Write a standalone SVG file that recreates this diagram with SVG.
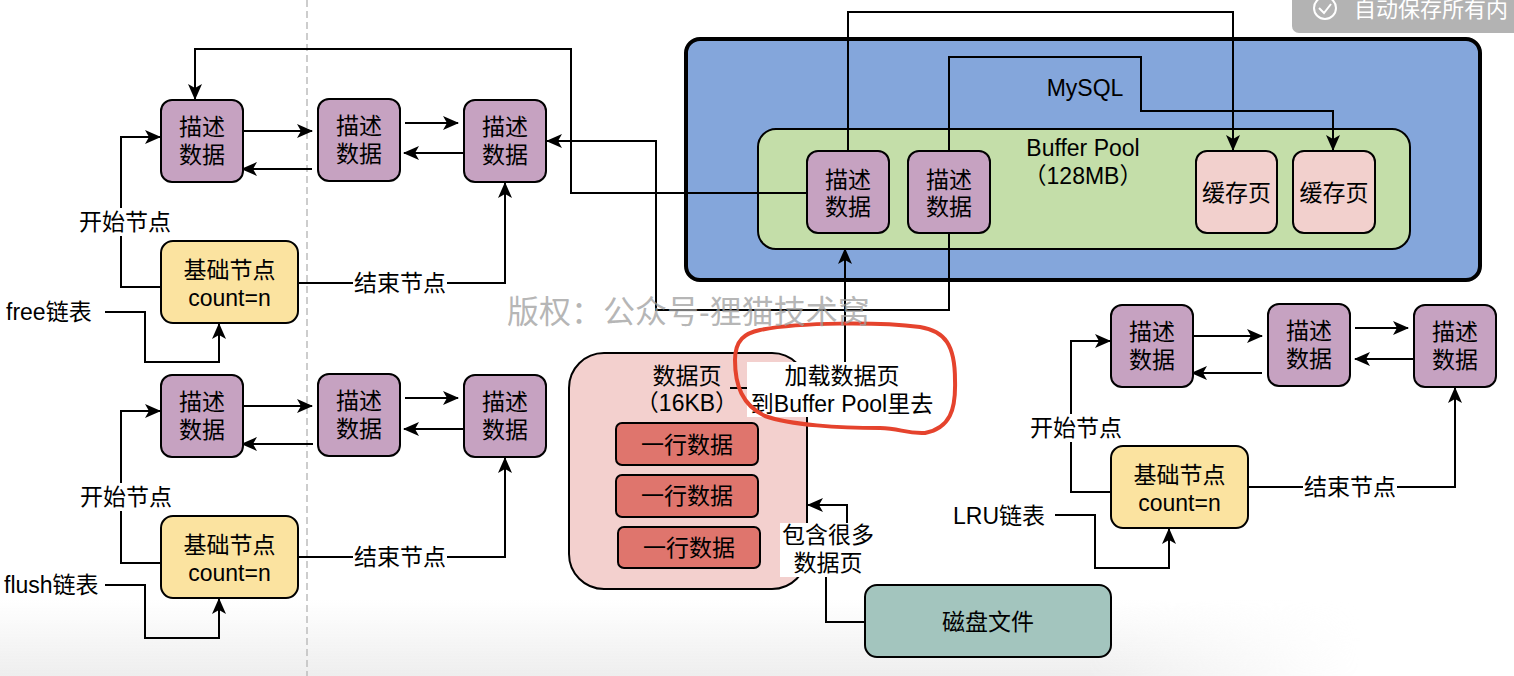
<svg xmlns="http://www.w3.org/2000/svg" width="1514" height="676" viewBox="0 0 1514 676">
<style>
.t{font-family:"Liberation Sans","Noto Sans CJK SC",sans-serif;font-size:23px;fill:#000;text-anchor:middle;dominant-baseline:central}
.tl{font-family:"Liberation Sans","Noto Sans CJK SC",sans-serif;font-size:23px;fill:#000;dominant-baseline:central}
.desc{fill:#C6A2C1;stroke:#000;stroke-width:2}
.base{fill:#FBE3A0;stroke:#000;stroke-width:2}
.cache{fill:#F2D0CD;stroke:#000;stroke-width:2}
.row{fill:#DF756D;stroke:#000;stroke-width:2}
.edge{fill:none;stroke:#000;stroke-width:2}
.arr{marker-end:url(#arr)}
.lbg{fill:#fff}
</style>
<defs>
<marker id="arr" markerWidth="16" markerHeight="14" refX="15" refY="7" orient="auto" markerUnits="userSpaceOnUse">
<path d="M0,0 L16,7 L0,14 L4,7 Z" fill="#000"/>
</marker>
<linearGradient id="gv" x1="0" y1="0" x2="0" y2="1">
<stop offset="0" stop-color="#eeeeee" stop-opacity="0"/>
<stop offset="1" stop-color="#eeeeee" stop-opacity="1"/>
</linearGradient>
<linearGradient id="gh" x1="0" y1="0" x2="1" y2="0">
<stop offset="0.8" stop-color="#fff"/>
<stop offset="1" stop-color="#000"/>
</linearGradient>
<mask id="mh" maskUnits="userSpaceOnUse" x="0" y="0" width="1514" height="676">
<rect x="0" y="590" width="1360" height="86" fill="url(#gh)"/>
</mask>
</defs>
<rect x="0" y="0" width="1514" height="676" fill="#fff"/>
<rect x="0" y="600" width="1360" height="76" fill="url(#gv)" mask="url(#mh)"/>
<line x1="307" y1="0" x2="307" y2="676" stroke="#BDBDBD" stroke-width="1.5" stroke-dasharray="7 4"/>

<g id="mysql">
<rect x="686" y="39" width="794" height="241" rx="14" fill="#84A6DB" stroke="#000" stroke-width="4"/>
<text class="t" x="1085" y="88">MySQL</text>
</g>
<g id="bufferpool">
<rect x="758" y="129" width="652" height="120" rx="18" fill="#C4DEA9" stroke="#000" stroke-width="2"/>
<text class="t" x="1083" y="148">Buffer Pool</text>
<text class="t" x="1083" y="176">（128MB）</text>
</g>
<g id="datapage">
<rect x="569" y="353" width="238" height="236" rx="35" fill="#F3D0CE" stroke="#000" stroke-width="2"/>
<text class="t" x="687" y="376">数据页</text>
<text class="t" x="687" y="403">（16KB）</text>
</g>

<g id="connectors">
<path class="edge arr" d="M243,131 H312"/>
<path class="edge arr" d="M312,169 H242"/>
<path class="edge arr" d="M405,123 H458"/>
<path class="edge arr" d="M464,153 H404"/>
<path class="edge arr" d="M161,287 H121 V137 H160"/>
<path class="edge arr" d="M298,283 H505 V183"/>
<path class="edge arr" d="M105,312 H145 V362 H219 V324"/>
<path class="edge arr" d="M807,193 H571 V49 H195 V99"/>
<path class="edge arr" d="M949,233 V310 H656 V141 H547"/>

<path class="edge arr" d="M243,406 H312"/>
<path class="edge arr" d="M313,444 H242"/>
<path class="edge arr" d="M405,398 H458"/>
<path class="edge arr" d="M464,429 H404"/>
<path class="edge arr" d="M161,563 H121 V411 H160"/>
<path class="edge arr" d="M298,557 H505 V458"/>
<path class="edge arr" d="M105,585 H145 V638 H219 V599"/>

<path class="edge arr" d="M1193,336 H1262"/>
<path class="edge arr" d="M1262,373 H1192"/>
<path class="edge arr" d="M1355,328 H1408"/>
<path class="edge arr" d="M1414,359 H1355"/>
<path class="edge arr" d="M1111,492 H1071 V341 H1110"/>
<path class="edge arr" d="M1248,487 H1455 V388"/>
<path class="edge arr" d="M1055,515 H1095 V568 H1169 V529"/>

<path class="edge arr" d="M848,151 V12 H1233 V150"/>
<path class="edge arr" d="M949,151 V57 H1141 V111 H1333 V150"/>
<path class="edge arr" d="M730,388 H845 V249"/>
<path class="edge arr" d="M864,622 H826 V540 H847 V505 H808"/>

<rect class="lbg" x="78" y="208" width="94" height="28"/>
<text class="t" x="125" y="222">开始节点</text>
<rect class="lbg" x="353" y="269" width="94" height="28"/>
<text class="t" x="400" y="283">结束节点</text>
<rect class="lbg" x="79" y="483" width="94" height="28"/>
<text class="t" x="126" y="497">开始节点</text>
<rect class="lbg" x="353" y="543" width="94" height="28"/>
<text class="t" x="400" y="557">结束节点</text>
<rect class="lbg" x="1029" y="414" width="94" height="28"/>
<text class="t" x="1076" y="428">开始节点</text>
<rect class="lbg" x="1303" y="473" width="94" height="28"/>
<text class="t" x="1350" y="487">结束节点</text>
<rect class="lbg" x="747" y="362" width="191" height="55"/>
<text class="t" x="842" y="376">加载数据页</text>
<text class="t" x="842" y="404">到Buffer Pool里去</text>
<rect class="lbg" x="780" y="523" width="94" height="54"/>
<text class="t" x="828" y="535">包含很多</text>
<text class="t" x="828" y="563">数据页</text>
</g>

<text class="tl" x="6" y="312">free链表</text>
<text class="tl" x="4" y="585">flush链表</text>
<text class="tl" x="953" y="516">LRU链表</text>

<g id="free-1"><rect class="desc" x="161" y="100" width="82" height="82" rx="11"/><text class="t" x="202" y="127">描述</text><text class="t" x="202" y="155">数据</text></g>
<g id="free-2"><rect class="desc" x="318" y="99" width="82" height="82" rx="11"/><text class="t" x="359" y="126">描述</text><text class="t" x="359" y="154">数据</text></g>
<g id="free-3"><rect class="desc" x="464" y="100" width="82" height="82" rx="11"/><text class="t" x="505" y="127">描述</text><text class="t" x="505" y="155">数据</text></g>
<g id="free-base"><rect class="base" x="161" y="241" width="137" height="82" rx="12"/><text class="t" x="229.5" y="270">基础节点</text><text class="t" x="229.5" y="298">count=n</text></g>

<g id="flush-1"><rect class="desc" x="161" y="375" width="82" height="82" rx="11"/><text class="t" x="202" y="402">描述</text><text class="t" x="202" y="430">数据</text></g>
<g id="flush-2"><rect class="desc" x="318" y="374" width="82" height="82" rx="11"/><text class="t" x="359" y="401">描述</text><text class="t" x="359" y="429">数据</text></g>
<g id="flush-3"><rect class="desc" x="464" y="375" width="82" height="82" rx="11"/><text class="t" x="505" y="402">描述</text><text class="t" x="505" y="430">数据</text></g>
<g id="flush-base"><rect class="base" x="161" y="516" width="137" height="82" rx="12"/><text class="t" x="229.5" y="545">基础节点</text><text class="t" x="229.5" y="573">count=n</text></g>

<g id="lru-1"><rect class="desc" x="1111" y="305" width="82" height="82" rx="11"/><text class="t" x="1152" y="332">描述</text><text class="t" x="1152" y="360">数据</text></g>
<g id="lru-2"><rect class="desc" x="1268" y="304" width="82" height="82" rx="11"/><text class="t" x="1309" y="331">描述</text><text class="t" x="1309" y="359">数据</text></g>
<g id="lru-3"><rect class="desc" x="1414" y="305" width="82" height="82" rx="11"/><text class="t" x="1455" y="332">描述</text><text class="t" x="1455" y="360">数据</text></g>
<g id="lru-base"><rect class="base" x="1111" y="446" width="137" height="82" rx="12"/><text class="t" x="1179.5" y="475">基础节点</text><text class="t" x="1179.5" y="503">count=n</text></g>

<g id="bp-desc-1"><rect class="desc" x="807" y="151" width="82" height="82" rx="11"/><text class="t" x="848" y="180">描述</text><text class="t" x="848" y="207">数据</text></g>
<g id="bp-desc-2"><rect class="desc" x="908" y="151" width="82" height="82" rx="11"/><text class="t" x="949" y="180">描述</text><text class="t" x="949" y="207">数据</text></g>
<g id="cache-1"><rect class="cache" x="1196" y="151" width="81" height="82" rx="11"/><text class="t" x="1236.5" y="193">缓存页</text></g>
<g id="cache-2"><rect class="cache" x="1293" y="151" width="82" height="82" rx="11"/><text class="t" x="1334" y="193">缓存页</text></g>

<g id="row-1"><rect class="row" x="616" y="423" width="142" height="42" rx="6"/><text class="t" x="687" y="445">一行数据</text></g>
<g id="row-2"><rect class="row" x="616" y="475" width="142" height="42" rx="6"/><text class="t" x="687" y="496">一行数据</text></g>
<g id="row-3"><rect class="row" x="618" y="527" width="142" height="41" rx="6"/><text class="t" x="689" y="548">一行数据</text></g>

<g id="disk"><rect x="865" y="585" width="246" height="72" rx="12" fill="#A3C5BE" stroke="#000" stroke-width="2"/><text class="t" x="988" y="622">磁盘文件</text></g>

<path d="M760,330 C800,322 880,322 920,327 C945,331 955,345 955,380 C956,410 950,428 925,433 C905,434 900,428 880,428 C840,428 790,425 765,416 C742,405 735,385 735,360 C735,340 745,333 760,330 Z" fill="none" stroke="#E5432D" stroke-width="4" stroke-linejoin="round"/>

<text x="507" y="312" font-family="'Liberation Sans','Noto Sans CJK SC',sans-serif" font-size="32" fill="#9E9E9E" fill-opacity="0.75" dominant-baseline="central">版权：公众号-狸猫技术窝</text>

<g id="autosave">
<rect x="1292" y="-10" width="240" height="43" rx="7" fill="#B3B3B3"/>
<circle cx="1325" cy="8" r="11" fill="none" stroke="#fff" stroke-width="2"/>
<path d="M1319,8 L1324,13 L1331,4" fill="none" stroke="#fff" stroke-width="2"/>
<text x="1354" y="9" font-family="'Liberation Sans','Noto Sans CJK SC',sans-serif" font-size="22" fill="#fff" dominant-baseline="central">自动保存所有内</text>
</g>
</svg>
